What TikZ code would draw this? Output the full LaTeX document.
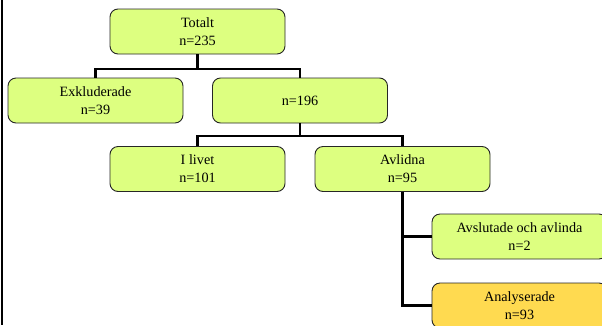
\documentclass[tikz,border=0pt]{standalone}
\usepackage{fontspec}
\setmainfont{Liberation Serif}
\definecolor{boxgreen}{RGB}{221,255,128}
\definecolor{boxorange}{RGB}{255,218,80}
\begin{document}
\begin{tikzpicture}[x=1pt,y=-1pt,
  box/.style={draw=black!85,line width=0.9pt,fill=boxgreen,rounded corners=8pt,
    minimum width=175pt,minimum height=45pt,align=center,inner sep=0pt,
    font=\fontsize{14.2pt}{18pt}\selectfont},
  conn/.style={line width=2.1pt,black}]
\useasboundingbox (0,0) rectangle (602,325);
\draw[line width=2.2pt] (2,0) -- (2,325);
\node[box] (tot) at (197.5,31.5) {Totalt\\n=235};
\node[box] (exk) at (95.5,100.5) {Exkluderade\\n=39};
\node[box] (n196) at (300,100.5) {n=196};
\node[box] (liv) at (197.5,169) {I livet\\n=101};
\node[box] (avl) at (402.5,169) {Avlidna\\n=95};
\node[box] (avs) at (519.5,236.5) {Avslutade och avlinda\\n=2};
\node[box,fill=boxorange] (ana) at (519.5,305.5) {Analyserade\\n=93};
\coordinate (j1) at (197.5,69);
\coordinate (j2) at (300,136);
\draw[conn] (tot.south) -- (j1);
\draw[conn] (exk.north) |- (j1) -| (n196.north);
\draw[conn] (n196.south) -- (j2);
\draw[conn] (liv.north) |- (j2) -| (avl.north);
\draw[conn] (avl.south) |- (ana.west);
\draw[conn] (avs.west) -| (avl.south);
\end{tikzpicture}
\end{document}
